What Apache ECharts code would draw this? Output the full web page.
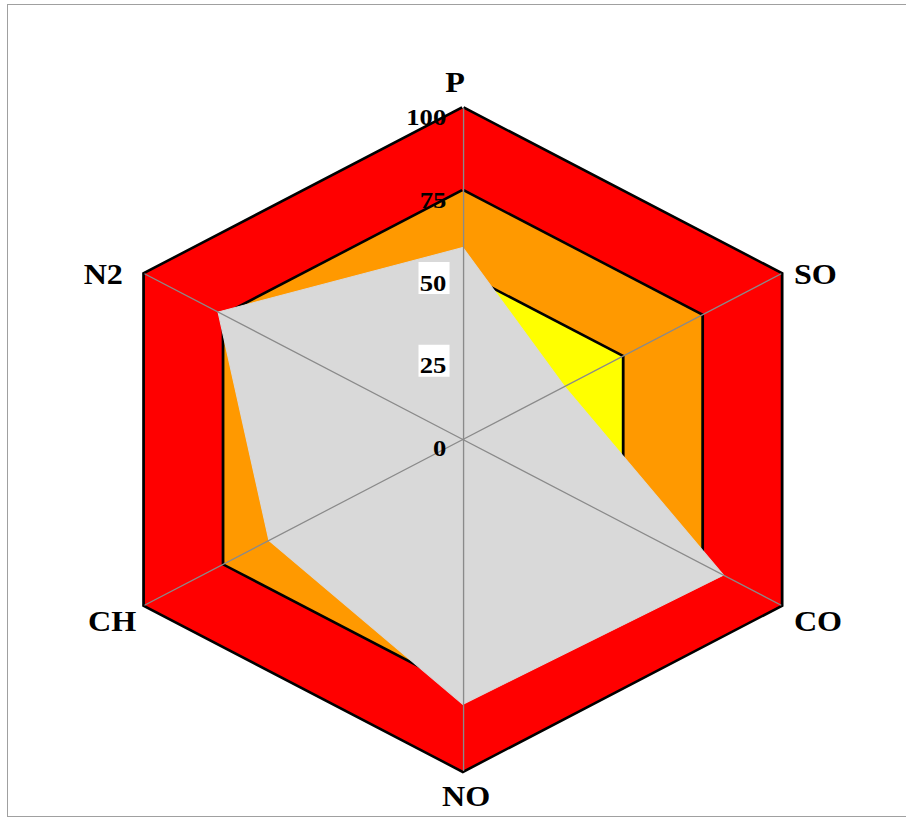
<!DOCTYPE html>
<html>
<head>
<meta charset="utf-8">
<script src="https://cdn.jsdelivr.net/npm/echarts@6/dist/echarts.min.js"></script>
<style>
  html, body { margin: 0; padding: 0; background: #fff; width: 906px; height: 821px; overflow: hidden; }
  #frame {
    position: absolute; left: 7px; top: 4px; width: 905px; height: 813px;
    box-sizing: border-box; overflow: hidden;
    border-left: 1px solid #a0a0a0; border-top: 1px solid #a0a0a0; border-bottom: 1px solid #a0a0a0;
  }
  #chart {
    position: absolute; left: -8px; top: -5px; width: 906px; height: 821px;
    transform-origin: 462.85px 439.5px; transform: scaleX(1.109);
  }
</style>
</head>
<body>
<div id="frame"><div id="chart"></div></div>
<script>
// ---- data (clockwise from the top, as seen in the picture) ----
const categories = ['P', 'SO', 'CO', 'NO', 'CH', 'N2'];
const measured   = [58, 32, 82, 80, 61, 77];
const bandRed    = [100, 100, 100, 100, 100, 100];
const bandOrange = [75, 75, 75, 75, 75, 75];
const bandYellow = [50, 50, 50, 50, 50, 50];
const tickValues = [0, 25, 50, 75, 100];
const boxedTicks = [25, 50];

// ECharts lays indicators counter-clockwise; reorder to keep the picture's clockwise layout
const toRadarOrder = arr => [arr[0]].concat(arr.slice(1).reverse());

const serif = 'Liberation Serif';
const nameFont = { fontFamily: serif, fontWeight: 'bold', fontSize: 29, color: '#000' };
const nameStyle = {
  P:  { padding: [0, 14, 5, 0] },
  SO: { padding: [3, 0, 0, 11] },
  CO: { padding: [33, 0, 0, 11] },
  NO: { padding: [31, 0, 0, 6], lineHeight: 20 },
  CH: { padding: [33, 7, 0, 0] },
  N2: { padding: [3, 19, 0, 0] }
};
const nameRich = {};
categories.forEach(c => { nameRich[c] = Object.assign({}, nameFont, nameStyle[c]); });

const tickFont = { fontFamily: serif, fontWeight: 'bold', fontSize: 24, color: '#000', lineHeight: 20, padding: [8, 3, 0, 1] };

const indicator = toRadarOrder(categories).map((c, i) => {
  const o = { name: c, min: tickValues[0], max: tickValues[tickValues.length - 1] };
  if (i === 0) o.axisLabel = { show: true };
  return o;
});

// the area fill hides the inner half of each outline, so the stroke is drawn twice as wide
const border = { color: '#000000', width: 5, join: 'miter' };

const chart = echarts.init(document.getElementById('chart'), null, { renderer: 'svg' });
chart.setOption({
  animation: false,
  backgroundColor: 'transparent',
  radar: {
    center: [462.85, 439.5],
    radius: 331,
    startAngle: 90,
    shape: 'polygon',
    splitNumber: tickValues.length - 1,
    z: 5,
    axisNameGap: 1,
    axisName: Object.assign({
      show: true,
      formatter: name => '{' + name + '|' + name + '}',
      rich: nameRich
    }, nameFont),
    axisLine: { show: true, lineStyle: { color: '#8a8a8a', width: 1.2 } },
    axisTick: { show: false },
    splitLine: { show: false },
    splitArea: { show: false },
    axisLabel: {
      show: false,
      margin: 12,
      padding: [8, 0, 0, 0],
      formatter: v => (boxedTicks.indexOf(v) >= 0 ? '{b|' + v + '}' : '{n|' + v + '}'),
      rich: {
        b: Object.assign({ backgroundColor: '#ffffff' }, tickFont),
        n: Object.assign({}, tickFont)
      }
    },
    indicator: indicator
  },
  series: [{
    type: 'radar',
    z: 2,
    symbol: 'none',
    silent: true,
    lineStyle: border,
    data: [
      { name: 'band100', value: toRadarOrder(bandRed),
        areaStyle: { color: '#ff0000', opacity: 1 }, lineStyle: border },
      { name: 'band75', value: toRadarOrder(bandOrange),
        areaStyle: { color: '#ff9900', opacity: 1 }, lineStyle: border },
      { name: 'band50', value: toRadarOrder(bandYellow),
        areaStyle: { color: '#ffff00', opacity: 1 }, lineStyle: border },
      { name: 'measured', value: toRadarOrder(measured),
        areaStyle: { color: '#d9d9d9', opacity: 1 },
        lineStyle: { color: '#d9d9d9', width: 1 } }
    ]
  }]
});
</script>
</body>
</html>
